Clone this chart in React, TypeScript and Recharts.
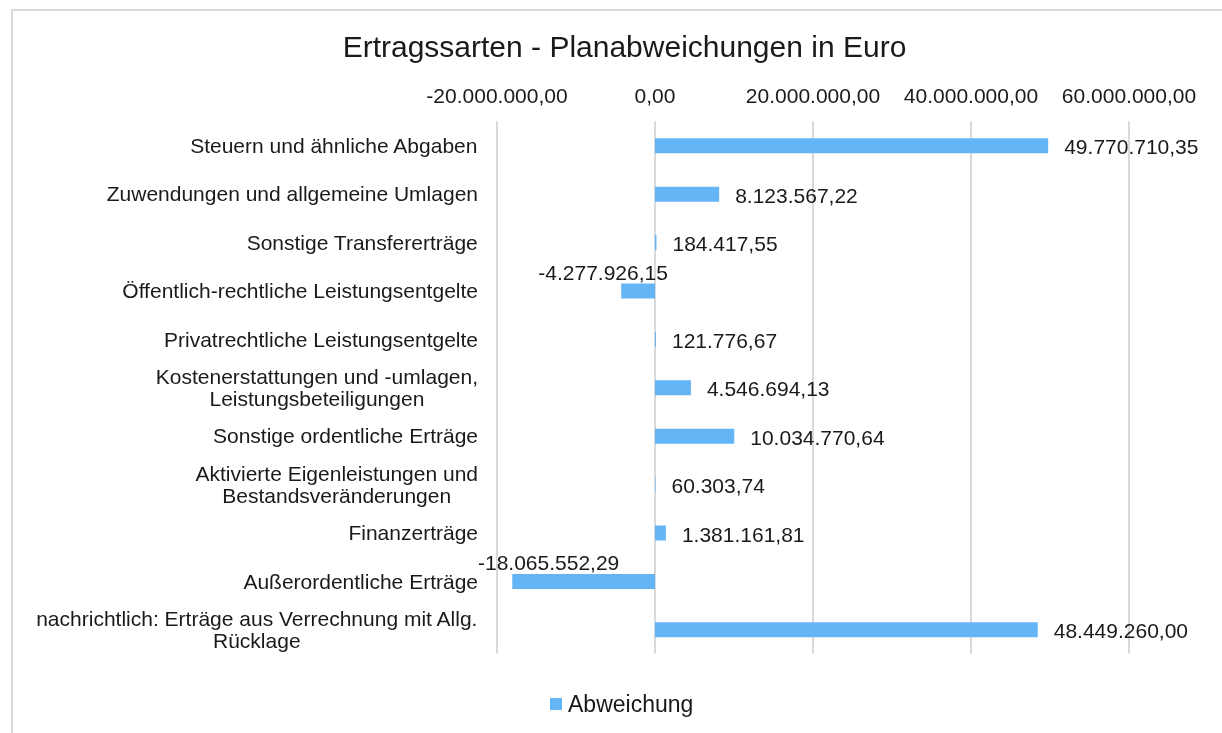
import React from 'react';
import { BarChart, Bar, XAxis, YAxis, CartesianGrid, Legend, LabelList } from 'recharts';

const categories = [
  'Steuern und ähnliche Abgaben',
  'Zuwendungen und allgemeine Umlagen',
  'Sonstige Transfererträge',
  'Öffentlich-rechtliche Leistungsentgelte',
  'Privatrechtliche Leistungsentgelte',
  'Kostenerstattungen und -umlagen,\nLeistungsbeteiligungen',
  'Sonstige ordentliche Erträge',
  'Aktivierte Eigenleistungen und\nBestandsveränderungen',
  'Finanzerträge',
  'Außerordentliche Erträge',
  'nachrichtlich: Erträge aus Verrechnung mit Allg.\nRücklage',
];

const abweichung = [
  49770710.35, 8123567.22, 184417.55, -4277926.15, 121776.67, 4546694.13,
  10034770.64, 60303.74, 1381161.81, -18065552.29, 48449260.0,
];

const xTicks = [-20000000, 0, 20000000, 40000000, 60000000];

const BAR_COLOR = '#64B5F6';
const TEXT_COLOR = '#1a1a1a';
const FONT = '"Liberation Sans", Arial, sans-serif';
const FS = 21;

const data = categories.map((name, i) => ({ name, Abweichung: abweichung[i] }));

// German number format, 2 decimals
const fmt = (v: number) => {
  const neg = v < 0;
  const [int, dec] = Math.abs(v).toFixed(2).split('.');
  const grouped = int.replace(/\B(?=(\d{3})+(?!\d))/g, '.');
  return `${neg ? '-' : ''}${grouped},${dec}`;
};

let ctx: CanvasRenderingContext2D | null = null;
const measure = (s: string) => {
  if (!ctx) {
    ctx = document.createElement('canvas').getContext('2d');
  }
  if (!ctx) return s.length * FS * 0.5;
  ctx.font = `${FS}px ${FONT}`;
  return ctx.measureText(s).width;
};

const CategoryTick = (props: any) => {
  const { x, y, payload } = props;
  const lines = String(payload.value).split('\n');
  const maxW = Math.max(...lines.map(measure));
  const lineH = 22;
  const y0 = y - ((lines.length - 1) * lineH) / 2;
  return (
    <g>
      {lines.map((l, i) => (
        <text
          key={i}
          x={x - maxW / 2}
          y={y0 + i * lineH}
          textAnchor="middle"
          dominantBaseline="central"
          fontSize={FS}
          fontFamily={FONT}
          fill={TEXT_COLOR}
        >
          {l}
        </text>
      ))}
    </g>
  );
};

const ValueLabel = (props: any) => {
  const { x, y, width, height, value } = props;
  const v = Number(value);
  const left = Math.min(x, x + width);
  const right = Math.max(x, x + width);
  const top = Math.min(y, y + height);
  if (v >= 0) {
    return (
      <text x={right + 16} y={top + Math.abs(height) / 2 + 1} dominantBaseline="central"
        fontSize={FS} fontFamily={FONT} fill={TEXT_COLOR}>
        {fmt(v)}
      </text>
    );
  }
  return (
    <text x={(left + right) / 2 - 35} y={top - 11} textAnchor="middle" dominantBaseline="central"
      fontSize={FS} fontFamily={FONT} fill={TEXT_COLOR}>
      {fmt(v)}
    </text>
  );
};

const LegendContent = () => (
  <div style={{ display: 'flex', alignItems: 'center', paddingLeft: 542, height: 30, fontFamily: FONT, fontSize: 23, color: TEXT_COLOR }}>
    <span style={{ width: 12, height: 12, background: BAR_COLOR, display: 'inline-block', marginRight: 6 }} />
    <span>Abweichung</span>
  </div>
);

const App: React.FC = () => {
  return (
    <div style={{ position: 'relative', width: 1206, height: 717, background: '#fff' }}>
      {/* chart frame, runs past the window's right and bottom edge */}
      <div style={{ position: 'fixed', left: 11, top: 9, width: 1400, height: 900, border: '2px solid #d9d9d9' }} />
      <div style={{ position: 'absolute', left: 0, top: 22, width: 1233, textAlign: 'center', fontFamily: FONT, fontSize: 30, color: TEXT_COLOR, lineHeight: '34px' }}>
        Ertragssarten - Planabweichungen in Euro
      </div>
      <div style={{ position: 'absolute', left: 0, top: 0 }}>
        <BarChart
          width={1206}
          height={717}
          data={data}
          layout="vertical"
          margin={{ top: 83.3, right: 85, bottom: 41.3, left: 0 }}
        >
          <CartesianGrid horizontal={false} stroke="#d9d9d9" strokeWidth={2} />
          <XAxis
            type="number"
            orientation="top"
            domain={[-20000000, 60000000]}
            ticks={xTicks}
            tickFormatter={fmt}
            axisLine={false}
            tickLine={false}
            height={30}
            tickMargin={12}
            tick={{ fontSize: FS, fontFamily: FONT, fill: TEXT_COLOR }}
          />
          <YAxis
            type="category"
            dataKey="name"
            width={489}
            axisLine={false}
            tickLine={false}
            tickMargin={13}
            interval={0}
            tick={<CategoryTick />}
          />
          <Legend
            verticalAlign="bottom"
            content={<LegendContent />}
            wrapperStyle={{ top: 681, left: 0, width: 1206, height: 30 }}
          />
          <Bar dataKey="Abweichung" fill={BAR_COLOR} barSize={15} isAnimationActive={false}>
            <LabelList dataKey="Abweichung" content={<ValueLabel />} />
          </Bar>
        </BarChart>
      </div>
    </div>
  );
};

export default App;
